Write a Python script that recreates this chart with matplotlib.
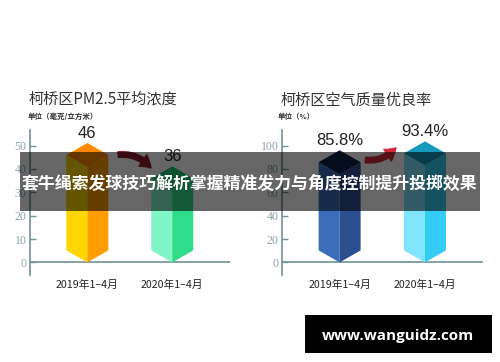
import matplotlib
matplotlib.use("Agg")
import matplotlib.pyplot as plt
from matplotlib.patches import Polygon, Rectangle, FancyArrowPatch

# ---- data ----
categories = ["2019年1–4月", "2020年1–4月"]
pm25_values = [46, 36]
pm25_labels = ["46", "36"]
pm25_ticks = [0, 10, 20, 30, 40, 50]
aq_values = [85.8, 93.4]
aq_labels = ["85.8%", "93.4%"]
aq_ticks = [0, 20, 40, 60, 80, 100]
title_left = "柯桥区PM2.5平均浓度"
unit_left = "单位（毫克/立方米）"
title_right = "柯桥区空气质量优良率"
unit_right = "单位（%）"
banner_text = "套牛绳索发球技巧解析掌握精准发力与角度控制提升投掷效果"
watermark = "www.wanguidz.com"

# face colours: (top, left, right)
left_colors = [("#ff8a00", "#ffd500", "#ff9c00"), ("#22c878", "#80f5c8", "#30dc8a")]
right_colors = [("#0d1e44", "#3b6dbb", "#2b4f8f"), ("#1798bd", "#80e4fc", "#33ccf4")]

CJK = ["Noto Sans CJK SC", "DejaVu Sans"]
AXC = "#6f9299"
TICKC = "#8aa2aa"

fig = plt.figure(figsize=(5.0, 3.62), dpi=100)
fig.patch.set_facecolor("white")

def px_per_unit_y(ax):
    return ax.transData.transform((0, 1))[1] - ax.transData.transform((0, 0))[1]

def px_per_unit_x(ax):
    return ax.transData.transform((1, 0))[0] - ax.transData.transform((0, 0))[0]

def make_axes(rect, ylim, ticks):
    ax = fig.add_axes(rect)
    ax.set_xlim(-0.675, 1.68)
    ax.set_ylim(*ylim)
    for s in ["top", "right", "bottom"]:
        ax.spines[s].set_visible(False)
    ax.spines["left"].set_color(AXC)
    ax.spines["left"].set_linewidth(1.2)
    ax.axhline(0, color=AXC, lw=1.2, zorder=1)
    ax.set_yticks(ticks)
    ax.set_yticklabels([str(t) for t in ticks], family="Liberation Serif",
                       fontsize=8.5, color=TICKC)
    ax.tick_params(axis="y", direction="in", length=4.5, width=1, color=AXC, pad=2.5)
    ax.set_xticks(range(len(categories)))
    ax.set_xticklabels(categories, family=CJK, fontsize=7.7, color="#222222")
    ax.tick_params(axis="x", length=0, pad=3.5)
    ax.set_facecolor("none")
    return ax

def draw_prisms(ax, values, labels, colors):
    d = 12.0 / px_per_unit_y(ax)
    w = 21.0 / px_per_unit_x(ax)
    for i, (v, lab, (ct, cl, cr)) in enumerate(zip(values, labels, colors)):
        x = i
        ax.add_patch(Polygon([(x - w, v), (x, v - d), (x, 0), (x - w, d)],
                             closed=True, facecolor=cl, edgecolor="none", zorder=3))
        ax.add_patch(Polygon([(x, v - d), (x + w, v), (x + w, d), (x, 0)],
                             closed=True, facecolor=cr, edgecolor="none", zorder=3))
        ax.add_patch(Polygon([(x - w, v), (x, v + d), (x + w, v), (x, v - d)],
                             closed=True, facecolor=ct, edgecolor="none", zorder=4))
        ax.annotate(lab, (x, v + d), xytext=(0, 1.5), textcoords="offset points",
                    ha="center", va="bottom", fontsize=12, family="Liberation Sans",
                    color="#222222", zorder=5)
    return d

ARROW = "simple,head_length=8,head_width=10,tail_width=4"

# left chart
axL = make_axes([0.06, 0.2403, 0.40, 0.4006], (-5.4, 56.7), pm25_ticks)
draw_prisms(axL, pm25_values, pm25_labels, left_colors)
axL.add_patch(FancyArrowPatch((0.33, 46), (0.77, 39.5),
                              connectionstyle="arc3,rad=-0.3", arrowstyle=ARROW,
                              color="#8b1c2c", zorder=5, mutation_scale=1))

# right chart
axR = make_axes([0.564, 0.2403, 0.402, 0.4006], (-10.8, 113.4), aq_ticks)
draw_prisms(axR, aq_values, aq_labels, right_colors)
axR.add_patch(FancyArrowPatch((0.27, 88), (0.68, 100),
                              connectionstyle="arc3,rad=0.3", arrowstyle=ARROW,
                              color="#d22a3a", zorder=5, mutation_scale=1))

# titles
fig.text(29 / 500, 1 - 99 / 362, title_left, family=CJK, fontsize=10.9,
         color="#333333", va="center", ha="left")
fig.text(28 / 500, 1 - 116 / 362, unit_left, family=CJK, fontsize=5.4,
         color="#333333", va="center", ha="left", weight="bold")
fig.text(281 / 500, 1 - 100 / 362, title_right, family=CJK, fontsize=10.9,
         color="#333333", va="center", ha="left")
fig.text(278 / 500, 1 - 116 / 362, unit_right, family=CJK, fontsize=5.4,
         color="#333333", va="center", ha="left", weight="bold")

# banner overlay
fig.add_artist(Rectangle((20 / 500, 1 - 211 / 362), 460 / 500, 59 / 362,
                         transform=fig.transFigure, facecolor="black", alpha=0.6,
                         edgecolor="none", zorder=10))
fig.text(249 / 500, 1 - 184 / 362, banner_text, family=CJK, fontsize=12.2,
         color="white", weight="bold", ha="center", va="center", zorder=11)

# watermark
fig.add_artist(Rectangle((305 / 500, 1 - 353 / 362), 187 / 500, 38 / 362,
                         transform=fig.transFigure, facecolor="black",
                         edgecolor="none", zorder=10))
fig.text(398 / 500, 1 - 336 / 362, watermark, family="Open Sans", fontsize=11,
         color="white", weight="bold", ha="center", va="center", zorder=11)

fig.savefig("out.png", dpi=100, facecolor="white")
